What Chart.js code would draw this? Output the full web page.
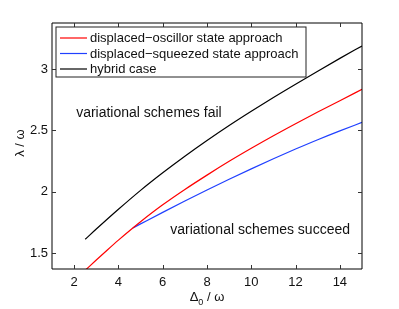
<!DOCTYPE html>
<html>
<head>
<meta charset="utf-8">
<script src="https://cdn.jsdelivr.net/npm/chart.js@4.4.1/dist/chart.umd.min.js"></script>
<style>
html,body{margin:0;padding:0;background:#fff;}
canvas{display:block;}
</style>
</head>
<body>
<canvas id="c" width="399" height="309"></canvas>
<script>
const seriesLabels = ["displaced\u2212oscillor state approach", "displaced\u2212squeezed state approach", "hybrid case"];
const seriesColors = ["#ff0000", "#2040ff", "#000000"];

const redX = [2.5, 3, 3.5, 4, 4.65, 5, 6, 7, 8, 9, 10, 11, 12, 13, 14, 15];
const redY = [1.362, 1.445, 1.527, 1.607, 1.706, 1.757, 1.894, 2.019, 2.136, 2.248, 2.354, 2.456, 2.554, 2.649, 2.742, 2.834];

const blueX = [4.65, 5, 6, 7, 8, 9, 10, 11, 12, 13, 14, 15];
const blueY = [1.706, 1.739, 1.833, 1.925, 2.015, 2.102, 2.187, 2.269, 2.348, 2.424, 2.496, 2.565];

const blackX = [2.5, 3, 4, 5, 6, 7, 8, 9, 10, 11, 12, 13, 14, 15];
const blackY = [1.614, 1.697, 1.858, 2.012, 2.155, 2.29, 2.418, 2.54, 2.656, 2.768, 2.876, 2.982, 3.086, 3.187];

const xTicks = [2, 4, 6, 8, 10, 12, 14];
const yTicks = [1.5, 2, 2.5, 3];
const xRange = [1, 15];
const yRange = [1.372, 3.374];

const annotations = [
  {text: "variational schemes fail", x: 2.09, y: 2.644},
  {text: "variational schemes succeed", x: 6.34, y: 1.69}
];

function pts(xs, ys){ return xs.map((x,i)=>({x:x, y:ys[i]})); }

const FONT = '"Liberation Sans", Arial, Helvetica, sans-serif';

const decor = {
  id: 'decor',
  afterDatasetsDraw(chart){
    const ctx = chart.ctx;
    const a = chart.chartArea;
    const xs = chart.scales.x, ys = chart.scales.y;
    ctx.save();
    // box
    ctx.strokeStyle = '#000';
    ctx.lineWidth = 1;
    ctx.beginPath();
    ctx.rect(Math.round(a.left), Math.round(a.top), Math.round(a.right - a.left), Math.round(a.bottom - a.top));
    ctx.stroke();
    // inward ticks
    const tl = 4;
    ctx.beginPath();
    xTicks.forEach(v=>{
      const p = Math.round(xs.getPixelForValue(v)) + 0.5;
      ctx.moveTo(p, a.bottom); ctx.lineTo(p, a.bottom - tl);
      ctx.moveTo(p, a.top); ctx.lineTo(p, a.top + tl);
    });
    yTicks.forEach(v=>{
      const p = Math.round(ys.getPixelForValue(v)) + 0.5;
      ctx.moveTo(a.left, p); ctx.lineTo(a.left + tl, p);
      ctx.moveTo(a.right, p); ctx.lineTo(a.right - tl, p);
    });
    ctx.strokeStyle = '#333';
    ctx.stroke();

    // annotations
    ctx.fillStyle = '#111';
    ctx.font = '14px ' + FONT;
    ctx.textBaseline = 'middle';
    ctx.textAlign = 'left';
    annotations.forEach(an=>{
      ctx.fillText(an.text, xs.getPixelForValue(an.x), ys.getPixelForValue(an.y));
    });

    // legend
    ctx.font = '13px ' + FONT;
    let maxW = 0;
    seriesLabels.forEach(t=>{ maxW = Math.max(maxW, ctx.measureText(t).width); });
    const lx = 56, ly = 27, textX = 90;
    const lw = textX + maxW + 7 - lx, lh = 50;
    ctx.fillStyle = '#fff';
    ctx.fillRect(lx, ly, lw, lh);
    ctx.strokeStyle = '#222';
    ctx.lineWidth = 1;
    ctx.strokeRect(lx, ly, Math.round(lw), lh);
    const rows = [38, 53.5, 69];
    seriesLabels.forEach((t,i)=>{
      ctx.strokeStyle = seriesColors[i];
      ctx.lineWidth = 1.2;
      ctx.beginPath();
      ctx.moveTo(60, rows[i]); ctx.lineTo(87, rows[i]);
      ctx.stroke();
      ctx.fillStyle = '#111';
      ctx.textBaseline = 'middle';
      ctx.fillText(t, textX, rows[i] + 0.5);
    });

    // x title: Δ0 / ω with subscript
    const cx = (a.left + a.right) / 2;
    ctx.textBaseline = 'alphabetic';
    ctx.font = '13px ' + FONT;
    const w1 = ctx.measureText('\u0394').width;
    const w3 = ctx.measureText(' / \u03c9').width;
    ctx.font = '9px ' + FONT;
    const w2 = ctx.measureText('0').width;
    let sx = cx - (w1 + w2 + w3) / 2;
    const by = 301;
    ctx.fillStyle = '#111';
    ctx.font = '13px ' + FONT;
    ctx.fillText('\u0394', sx, by);
    ctx.font = '9px ' + FONT;
    ctx.fillText('0', sx + w1, by + 4);
    ctx.font = '13px ' + FONT;
    ctx.fillText(' / \u03c9', sx + w1 + w2, by);

    // y title
    ctx.save();
    ctx.translate(20, (a.top + a.bottom) / 2 - 3);
    ctx.rotate(-Math.PI / 2);
    ctx.textAlign = 'center';
    ctx.textBaseline = 'middle';
    ctx.font = '13px ' + FONT;
    ctx.fillText('\u03bb / \u03c9', 0, 0);
    ctx.restore();

    ctx.restore();
  }
};

const mk = (label, color, data) => ({
  label: label, data: data, borderColor: color, backgroundColor: color,
  borderWidth: 1.2, pointRadius: 0, fill: false, cubicInterpolationMode: 'monotone'
});

new Chart(document.getElementById('c'), {
  type: 'line',
  data: {
    datasets: [
      mk(seriesLabels[0], seriesColors[0], pts(redX, redY)),
      mk(seriesLabels[1], seriesColors[1], pts(blueX, blueY)),
      mk(seriesLabels[2], seriesColors[2], pts(blackX, blackY))
    ]
  },
  options: {
    responsive: false,
    animation: false,
    devicePixelRatio: 1,
    layout: {padding: {left: 0, right: 37, top: 23, bottom: 0}},
    plugins: {legend: {display: false}, tooltip: {enabled: false}},
    scales: {
      x: {
        type: 'linear', min: xRange[0], max: xRange[1],
        afterBuildTicks: s => { s.ticks = xTicks.map(v=>({value:v})); },
        afterFit: s => { s.height = 40; },
        grid: {display: false, drawTicks: false},
        border: {display: false},
        ticks: {color: '#111', font: {family: FONT, size: 13}, padding: 6, maxRotation: 0, autoSkip: false}
      },
      y: {
        type: 'linear', min: yRange[0], max: yRange[1],
        afterBuildTicks: s => { s.ticks = yTicks.map(v=>({value:v})); },
        afterFit: s => { s.width = 52; },
        grid: {display: false, drawTicks: false},
        border: {display: false},
        ticks: {color: '#111', font: {family: FONT, size: 13}, padding: 4, autoSkip: false,
                callback: v => String(v)}
      }
    }
  },
  plugins: [decor]
});
</script>
</body>
</html>
